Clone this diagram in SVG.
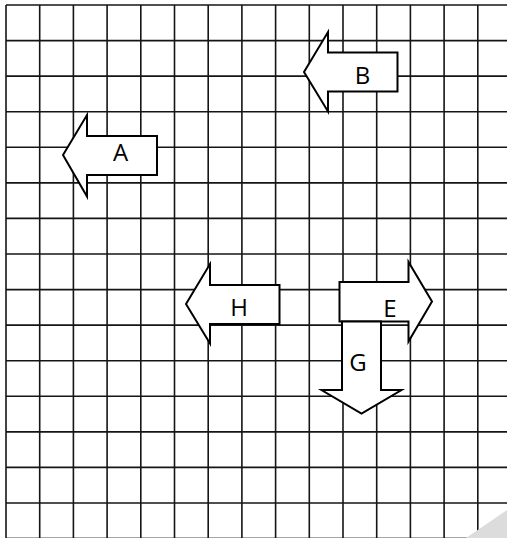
<svg xmlns="http://www.w3.org/2000/svg" width="507" height="538" viewBox="0 0 507 538">
  <style>
    .grid line { stroke: #151515; stroke-width: 1.6; }
    .arrow { fill: #ffffff; stroke: #000000; stroke-width: 2; stroke-linejoin: miter; }
    .label { font-family: "Open Sans", "Liberation Sans", sans-serif; font-size: 24px; fill: #000000; text-anchor: middle; }
  </style>
  <rect width="507" height="538" fill="#ffffff"/>
  <g id="grid" class="grid">
    <line x1="6" y1="5" x2="507" y2="5"/>
    <line x1="6" y1="40.6" x2="507" y2="40.6"/>
    <line x1="6" y1="76.1" x2="507" y2="76.1"/>
    <line x1="6" y1="111.7" x2="507" y2="111.7"/>
    <line x1="6" y1="147.3" x2="507" y2="147.3"/>
    <line x1="6" y1="182.9" x2="507" y2="182.9"/>
    <line x1="6" y1="218.4" x2="507" y2="218.4"/>
    <line x1="6" y1="254" x2="507" y2="254"/>
    <line x1="6" y1="289.6" x2="507" y2="289.6"/>
    <line x1="6" y1="325.1" x2="507" y2="325.1"/>
    <line x1="6" y1="360.7" x2="507" y2="360.7"/>
    <line x1="6" y1="396.3" x2="507" y2="396.3"/>
    <line x1="6" y1="431.9" x2="507" y2="431.9"/>
    <line x1="6" y1="467.4" x2="507" y2="467.4"/>
    <line x1="6" y1="503" x2="507" y2="503"/>
    <line x1="6" y1="538" x2="507" y2="538" style="stroke:#8a8a8a"/>
    <line x1="6" y1="5" x2="6" y2="538"/>
    <line x1="39.7" y1="5" x2="39.7" y2="538"/>
    <line x1="73.4" y1="5" x2="73.4" y2="538"/>
    <line x1="107.1" y1="5" x2="107.1" y2="538"/>
    <line x1="140.8" y1="5" x2="140.8" y2="538"/>
    <line x1="174.5" y1="5" x2="174.5" y2="538"/>
    <line x1="208.2" y1="5" x2="208.2" y2="538"/>
    <line x1="241.9" y1="5" x2="241.9" y2="538"/>
    <line x1="275.6" y1="5" x2="275.6" y2="538"/>
    <line x1="309.3" y1="5" x2="309.3" y2="538"/>
    <line x1="343" y1="5" x2="343" y2="538"/>
    <line x1="376.7" y1="5" x2="376.7" y2="538"/>
    <line x1="410.4" y1="5" x2="410.4" y2="538"/>
    <line x1="444.1" y1="5" x2="444.1" y2="538"/>
    <line x1="477.8" y1="5" x2="477.8" y2="538"/>
  </g>
  <g id="connectors"></g>
  <g id="A">
    <polygon class="arrow" points="63,155 87,115 87,136 157,136 157,175 87,175 87,196.5"/>
    <text class="label" x="120.5" y="161">A</text>
  </g>
  <g id="B">
    <polygon class="arrow" points="304,72 328,32 328,52.5 397.5,52.5 397.5,91.5 328,91.5 328,111.5"/>
    <text class="label" x="362.5" y="83.5">B</text>
  </g>
  <g id="H">
    <polygon class="arrow" points="186,304 210,264 210,285 279.5,285 279.5,324 210,324 210,343.5"/>
    <text class="label" x="239" y="315.5">H</text>
  </g>
  <g id="E">
    <polygon class="arrow" points="339.5,282 408.5,282 408.5,262 432,301.5 408.5,341.5 408.5,321.5 339.5,321.5"/>
    <text class="label" x="390" y="316.5">E</text>
  </g>
  <g id="G">
    <polygon class="arrow" points="342,321.5 381,321.5 381,390 401.5,390 361.5,413.5 321.5,390 342,390"/>
    <text class="label" x="358" y="370.5">G</text>
  </g>
  <polygon points="466,538 507,510 507,538" fill="#dcdcdc"/>
</svg>
